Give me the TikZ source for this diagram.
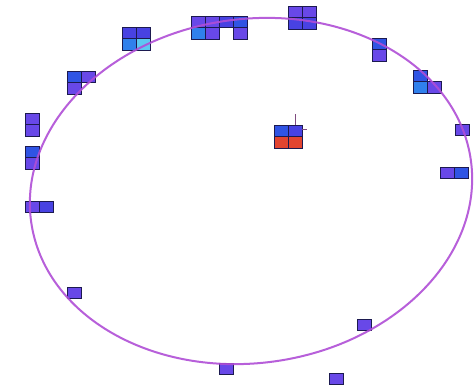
\documentclass[tikz,border=0pt]{standalone}
\usepackage{tikz}
\usetikzlibrary{positioning}
\definecolor{cellline}{RGB}{28,26,80}
\definecolor{violetcell}{RGB}{104,72,232}
\definecolor{indigocell}{RGB}{72,66,226}
\definecolor{bluecell}{RGB}{48,84,228}
\definecolor{skycell}{RGB}{48,128,236}
\definecolor{cyancell}{RGB}{92,200,242}
\definecolor{redcell}{RGB}{226,68,48}
\definecolor{orbitcolor}{RGB}{176,78,214}
\tikzset{
    cell/.style={
        rectangle,
        draw=cellline,
        line width=1pt,
        fill=violetcell,
        minimum width=14pt,
        minimum height=11.5pt,
        inner sep=0pt,
        outer sep=0pt
    },
    orbitpath/.style={
        draw=orbitcolor,
        line width=2pt,
        opacity=0.9
    },
    marktick/.style={
        draw=gray!60!violet,
        line width=0.6pt
    }
}

\begin{document}
\begin{tikzpicture}[x=1pt, y=-1pt]
    \useasboundingbox[fill=white] (0,0) rectangle (476,384);

    % top left 2x2
    \node[cell, anchor=north west, fill=indigocell] (a1) at (122,27) {};
    \node[cell, right=0pt of a1, fill=indigocell] (a2) {};
    \node[cell, below=0pt of a1, fill=skycell] (a3) {};
    \node[cell, below=0pt of a2, fill=cyancell] (a4) {};

    % top bar
    \node[cell, anchor=north west] (b1) at (191,16) {};
    \node[cell, right=0pt of b1] (b2) {};
    \node[cell, right=0pt of b2, fill=indigocell] (b3) {};
    \node[cell, right=0pt of b3, fill=bluecell] (b4) {};
    \node[cell, below=0pt of b1, fill=skycell] (b5) {};
    \node[cell, below=0pt of b2] (b6) {};
    \node[cell, below=0pt of b4] (b7) {};

    % top right 2x2
    \node[cell, anchor=north west] (c1) at (288,6) {};
    \node[cell, right=0pt of c1] (c2) {};
    \node[cell, below=0pt of c1, fill=indigocell] (c3) {};
    \node[cell, below=0pt of c2, fill=indigocell] (c4) {};

    \node[cell, anchor=north west, fill=bluecell] (d1) at (372,38) {};
    \node[cell, below=0pt of d1] (d2) {};

    \node[cell, anchor=north west, fill=bluecell] (e1) at (413,70) {};
    \node[cell, below=0pt of e1, fill=skycell] (e2) {};
    \node[cell, right=0pt of e2] (e3) {};

    \node[cell, anchor=north west] (f1) at (455,124) {};

    \node[cell, anchor=north west] (g1) at (440,167) {};
    \node[cell, right=0pt of g1, fill=bluecell] (g2) {};

    % centre block
    \node[cell, anchor=north west, fill=bluecell] (h1) at (274,125) {};
    \node[cell, right=0pt of h1, fill=indigocell] (h2) {};
    \node[cell, below=0pt of h1, fill=redcell] (h3) {};
    \node[cell, below=0pt of h2, fill=redcell] (h4) {};
    \coordinate (hup) at ([yshift=11pt]h2.north);
    \coordinate (hright) at ([xshift=5pt, yshift=1.5pt]h2.east);
    \draw[marktick] (h2.north) -- (hup);
    \draw[marktick] ([yshift=1.5pt]h2.east) -- (hright);

    % left side
    \node[cell, anchor=north west] (i1) at (25,113) {};
    \node[cell, below=0pt of i1] (i2) {};

    \node[cell, anchor=north west, fill=bluecell] (j1) at (25,146) {};
    \node[cell, below=0pt of j1] (j2) {};

    \node[cell, anchor=north west, fill=bluecell] (k1) at (67,71) {};
    \node[cell, right=0pt of k1] (k2) {};
    \node[cell, below=0pt of k1] (k3) {};

    \node[cell, anchor=north west] (l1) at (25,201) {};
    \node[cell, right=0pt of l1, fill=indigocell] (l2) {};

    % bottom singles
    \node[cell, anchor=north west] (m1) at (67,287) {};
    \node[cell, anchor=north west] (n1) at (219,363) {};
    \node[cell, anchor=north west] (o1) at (357,319) {};
    \node[cell, anchor=north west] (p1) at (329,373) {};

    \draw[orbitpath, rotate around={8:(251,191)}] (251,191) ellipse [x radius=222pt, y radius=172pt];
\end{tikzpicture}
\end{document}
